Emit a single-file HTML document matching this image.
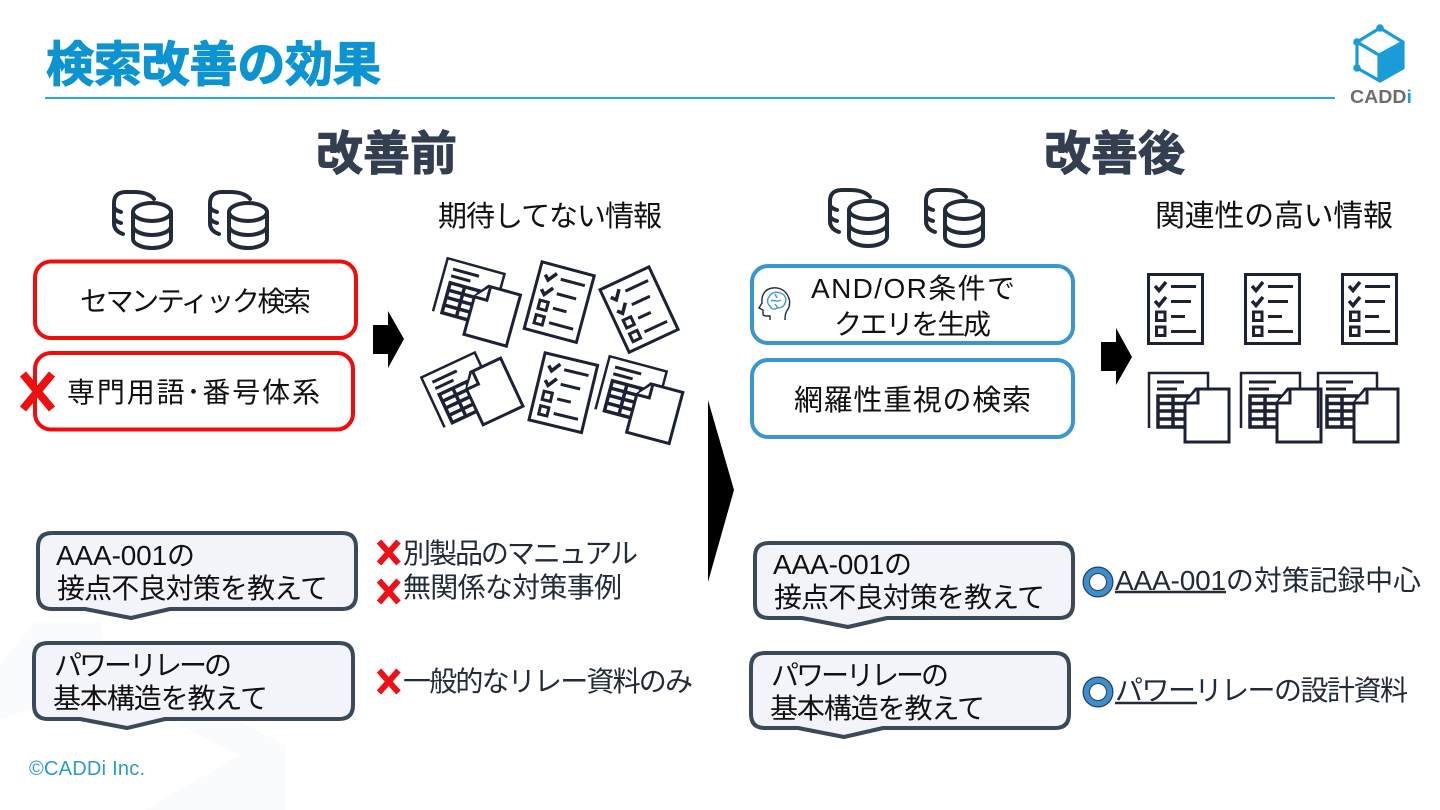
<!DOCTYPE html>
<html lang="ja"><head><meta charset="utf-8"><title>検索改善の効果</title>
<style>
html,body{margin:0;padding:0;background:#fff;width:1440px;height:810px;overflow:hidden}
svg{display:block}
text{font-family:"Liberation Sans","Noto Sans CJK JP",sans-serif;fill:#111}
.h{font-weight:700;fill:#333f50;stroke:#333f50;stroke-width:1}
.d{fill:#222b38}
</style></head><body>
<svg width="1440" height="810" viewBox="0 0 1440 810" xmlns="http://www.w3.org/2000/svg">
<defs>
<g id="db" fill="none" stroke="#222b38" stroke-width="4" stroke-linecap="round">
  <ellipse cx="40" cy="22" rx="19" ry="9" fill="#fff"/>
  <path d="M21 22V49C21 54 30 58 40 58S59 54 59 49V22M21 36C21 41 30 45 40 45S59 41 59 36"/>
  <path d="M42 9C38 4 30 2 22 2H14C6 2 2 6 2 13V33C2 38 5 42 11 44M2 17C3 20 6 21 9 22M2 28C3 31 6 32 9 33"/>
</g>
<g id="chk" fill="none" stroke="#1c2136">
  <rect x="1.500" y="1.500" width="54" height="69" stroke-width="3"/>
  <path d="M8 13L12 17.500L19 9M8 28L12 32.500L19 24" stroke-width="3.500"/>
  <path d="M24 13.500H49M24 28.500H44M24 43.500H38M24 58.500H49" stroke-width="3"/>
  <rect x="9.500" y="39" width="8.500" height="8.500" stroke-width="3"/>
  <rect x="9.500" y="54" width="8.500" height="8.500" stroke-width="3"/>
</g>
<g id="tbl" fill="none" stroke="#1c2136">
  <path d="M1 56V1H60V33" stroke-width="2.500"/>
  <path d="M9 10H36M9 17H29" stroke-width="3"/>
  <path d="M10 24H40V55H10ZM10 31.500H40M10 39H40M10 47H40M25 24V55" stroke-width="3.500"/>
  <path d="M37 31L48 17H81V70H37Z" fill="#fff" stroke-width="3"/>
  <path d="M37 31H50V17" fill="#fff" stroke-width="3"/>
</g>
<g id="bad">
  <path d="M2 2L21.500 24M21.500 2L2 24" stroke="#f00f16" stroke-width="6" fill="none"/>
</g>
<g id="ok">
  <circle r="14.500" fill="none" stroke="#2f3d52" stroke-width="2"/>
  <circle r="11.500" fill="none" stroke="#3a8fd0" stroke-width="5.500"/>
  <circle r="8.500" fill="#fff" stroke="#2f3d52" stroke-width="1"/>
</g>
</defs>

<!-- faint watermark -->
<path d="M0 665L35 622H100L105 650L285 745V810H145L240 755L95 685L0 720Z" fill="#fafbfd"/>

<!-- header -->
<text x="46" y="81" font-size="48" font-weight="700" style="fill:#0b94d1;stroke:#0b94d1;stroke-width:1.200" textLength="335" lengthAdjust="spacing">検索改善の効果</text>
<rect x="45" y="97" width="1290" height="2" fill="#29a8df"/>
<g fill="none" stroke="#1a9cd8" stroke-width="3.200">
  <path d="M1380 28L1403 42V68L1380 81L1357 68V42ZM1357 42L1379 55L1403 42M1379 55V81"/>
</g>
<path d="M1380 55L1403 42V68L1380 81Z" fill="#1a9cd8"/>
<circle cx="1380" cy="28" r="3.800" fill="#1a9cd8"/><circle cx="1357" cy="42" r="3.800" fill="#1a9cd8"/><circle cx="1357" cy="68" r="3.800" fill="#1a9cd8"/>
<text x="1350" y="103" font-size="18" font-weight="700" textLength="62" lengthAdjust="spacingAndGlyphs" style="fill:#6e6e6e">CADD<tspan style="fill:#1a9cd8">i</tspan></text>

<text class="h" x="316" y="170" font-size="47" textLength="141" lengthAdjust="spacing">改善前</text>
<text class="h" x="1044" y="170" font-size="47" textLength="141" lengthAdjust="spacing">改善後</text>
<text x="438" y="226" font-size="29" textLength="224" lengthAdjust="spacing">期待してない情報</text>
<text x="1155" y="226" font-size="30" textLength="238" lengthAdjust="spacing">関連性の高い情報</text>

<use href="#db" x="112" y="190"/><use href="#db" x="208" y="190"/>
<use href="#db" x="828" y="188"/><use href="#db" x="924" y="188"/>

<!-- red boxes -->
<rect x="35" y="261.500" width="321" height="76.500" rx="16" fill="#fff" stroke="#ee0c0c" stroke-width="4"/>
<rect x="35" y="353" width="318" height="76.500" rx="16" fill="#fff" stroke="#ee0c0c" stroke-width="4"/>
<text x="80" y="311" font-size="28" textLength="231" lengthAdjust="spacing">セマンティック検索</text>
<text x="67" y="402" font-size="28" textLength="253" lengthAdjust="spacing">専門用語･番号体系</text>
<path d="M23 374L52 409M52 374L23 409" stroke="#ee1010" stroke-width="8" fill="none"/>

<!-- blue boxes -->
<rect x="752" y="266" width="321" height="77" rx="16" fill="#fff" stroke="#3a96d2" stroke-width="4"/>
<rect x="752" y="360" width="321" height="77" rx="16" fill="#fff" stroke="#3a96d2" stroke-width="4"/>
<text x="811" y="298" font-size="28" textLength="204" lengthAdjust="spacing">AND/OR条件で</text>
<text x="834" y="334" font-size="28" textLength="157" lengthAdjust="spacing">クエリを生成</text>
<text x="794" y="410" font-size="29" textLength="237" lengthAdjust="spacing">網羅性重視の検索</text>
<g fill="none" stroke-width="1.400">
  <path d="M785 320C785 314 786 312 788 309C791 304 790 296 784 291C778 286 768 287 764 293C761 298 762 301 762 303L759 308L763 310V314C763 316 765 316 767 316H770V320" stroke="#222b38"/>
  <path d="M769 297C771 293 776 291 780 293C785 294 787 299 785 303C784 307 780 308 777 308C775 310 771 309 770 306C767 304 767 299 769 297ZM771 301C774 299 777 303 781 300M775 294L777 298M775 304L778 308" stroke="#3a96d2"/>
</g>

<!-- arrows -->
<path d="M373 325H388V311L404 339L388 368V354H373Z" fill="#000"/>
<path d="M1101 342H1116V328L1132 357L1116 385V371H1101Z" fill="#000"/>
<path d="M708 400L734 490L708 582Z" fill="#000"/>

<!-- scattered docs -->
<use href="#tbl" transform="translate(447,257) rotate(15.500)"/>
<use href="#chk" transform="translate(541,260) rotate(15)"/>
<use href="#chk" transform="translate(598,289) rotate(-25)"/>
<use href="#tbl" transform="translate(420,377) rotate(-25)"/>
<use href="#chk" transform="translate(544,351) rotate(13.500)"/>
<use href="#tbl" transform="translate(609,355) rotate(15)"/>

<!-- tidy docs -->
<use href="#chk" x="1147" y="273"/><use href="#chk" x="1244" y="273"/><use href="#chk" x="1341" y="273"/>
<use href="#tbl" x="1148" y="372"/><use href="#tbl" x="1240" y="372"/><use href="#tbl" x="1317" y="372"/>

<!-- callouts -->
<g fill="#f2f4f9" stroke="#3b4a5a" stroke-width="4" stroke-linejoin="round">
  <path d="M52 533H342Q356 533 356 547V595Q356 609 342 609H170L131 618L85 609H52Q38 609 38 595V547Q38 533 52 533Z"/>
  <path d="M48 643H339Q353 643 353 657V705Q353 719 339 719H165L127 728L80 719H48Q34 719 34 705V657Q34 643 48 643Z"/>
  <path d="M769 543H1059Q1073 543 1073 557V604Q1073 618 1059 618H887L848 627L802 618H769Q755 618 755 604V557Q755 543 769 543Z"/>
  <path d="M765 653H1055Q1069 653 1069 667V714Q1069 728 1055 728H883L844 737L798 728H765Q751 728 751 714V667Q751 653 765 653Z"/>
</g>
<text x="56" y="565" font-size="28" textLength="139" lengthAdjust="spacing">AAA-001の</text>
<text x="57" y="598" font-size="28" textLength="271" lengthAdjust="spacing">接点不良対策を教えて</text>
<text x="54" y="675" font-size="28" textLength="178" lengthAdjust="spacing">パワーリレーの</text>
<text x="53" y="708" font-size="28" textLength="215" lengthAdjust="spacing">基本構造を教えて</text>
<text x="773" y="574" font-size="28" textLength="139" lengthAdjust="spacing">AAA-001の</text>
<text x="774" y="607" font-size="28" textLength="271" lengthAdjust="spacing">接点不良対策を教えて</text>
<text x="771" y="685" font-size="28" textLength="178" lengthAdjust="spacing">パワーリレーの</text>
<text x="770" y="718" font-size="28" textLength="215" lengthAdjust="spacing">基本構造を教えて</text>

<!-- result notes -->
<use href="#bad" x="377" y="539.500"/><use href="#bad" x="377" y="578.500"/><use href="#bad" x="377" y="668.500"/>
<text class="d" x="403" y="563" font-size="28" textLength="235" lengthAdjust="spacing">別製品のマニュアル</text>
<text class="d" x="403" y="597" font-size="28" textLength="219" lengthAdjust="spacing">無関係な対策事例</text>
<text class="d" x="403" y="691" font-size="28" textLength="290" lengthAdjust="spacing">一般的なリレー資料のみ</text>

<use href="#ok" x="1098" y="582"/><use href="#ok" x="1098" y="692"/>
<text class="d" x="1115" y="590" font-size="28" textLength="306" lengthAdjust="spacing">AAA-001の対策記録中心</text>
<text class="d" x="1115" y="700" font-size="28" textLength="293" lengthAdjust="spacing">パワーリレーの設計資料</text>
<path d="M1115 592H1226M1115 703H1197" stroke="#222b38" stroke-width="2.500"/>

<text x="29" y="775" font-size="20" textLength="116" lengthAdjust="spacing" style="fill:#2a9cc8">©CADDi Inc.</text>
</svg>
</body></html>
